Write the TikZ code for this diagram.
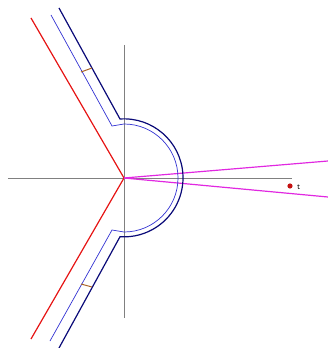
\documentclass[tikz,border=0pt]{standalone}
\usepackage{tikz}
\definecolor{navy}{RGB}{10,10,120}
\definecolor{pathblue}{RGB}{50,50,210}
\definecolor{cutred}{RGB}{230,20,20}
\definecolor{raymag}{RGB}{225,40,225}
\definecolor{tickbrown}{RGB}{170,100,40}

\begin{document}
\begin{tikzpicture}[x=1pt,y=1pt,
  axis/.style={gray,line width=0.5pt},
  cut/.style={cutred,line width=1.2pt},
  ray/.style={raymag,line width=1.2pt},
  outer/.style={navy,line width=1.2pt},
  inner/.style={pathblue,line width=0.7pt},
  tick/.style={tickbrown,line width=1pt}]
\useasboundingbox (-124,-170) rectangle (204,178);
% axes
\draw[axis] (-116,0) -- (168,0);
\draw[axis] (0,133) -- (0,-140);
% branch cuts
\draw[cut] (0,0) -- (-93,160);
\draw[cut] (0,0) -- (-93,-161);
% rays
\draw[ray] (0,0) -- (204,17);
\draw[ray] (0,0) -- (204,-19);
% contours
\draw[outer] (-65,170) -- (-4,59) arc (93.9:-93.9:59) -- (-65,-170);
\draw[inner] (-73,163) -- (-12,52) -- (0,54) arc (90:-90:54) -- (-12,-52) -- (-74,-163);
\draw[tick] (-43,106) -- (-32,110);
\draw[tick] (-43,-106) -- (-32,-109);
% point
\fill[cutred!85!black] (166,-8) circle (2.6);
\node[right,inner sep=0pt,font=\sffamily\footnotesize] (t) at (173,-9) {t};
\end{tikzpicture}
\end{document}
